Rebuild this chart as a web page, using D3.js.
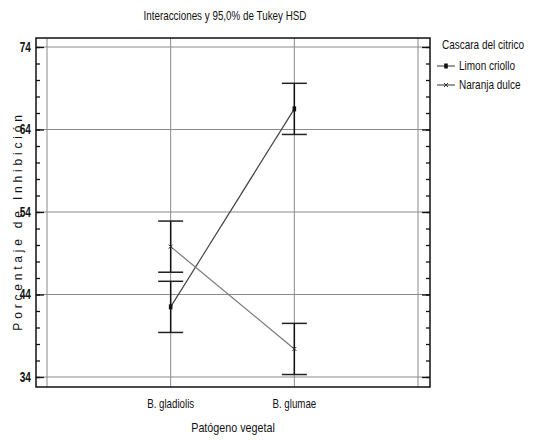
<!DOCTYPE html>
<html><head><meta charset="utf-8">
<script src="https://cdn.jsdelivr.net/npm/d3@7"></script>
<style>
body{margin:0;background:#fff;}
text{font-family:"Liberation Sans",Arial,sans-serif;fill:#111;}
</style></head>
<body><svg id="c" width="533" height="440"></svg>
<script>
const categories = ["B. gladiolis","B. glumae"];
const seriesNames = ["Limon criollo","Naranja dulce"];
const limonMeans = [42.5, 66.5];
const naranjaMeans = [49.8, 37.4];
const halfWidth = [3.1, 3.1];
const yTicks = [34,44,54,64,74];
const minorTicks = d3.range(34,75,2);

const svg = d3.select("#c");
const F = {l:36, r:430, t:38, b:387};
const x = d3.scaleLinear().domain([0,3]).range([47,418]);
const y = d3.scaleLinear().domain([34,74]).range([377,47]);

function ntext(sel, tx, ty, str, opts){
  opts = opts||{};
  return sel.append("text")
    .attr("transform",`translate(${tx},${ty}) scale(${opts.sx||0.8},1)`)
    .attr("text-anchor",opts.anchor||"start")
    .attr("font-size",opts.size||12)
    .attr("font-weight",opts.weight||"normal")
    .text(str);
}

// gridlines
const g = svg.append("g");
g.selectAll(".hg").data(yTicks).join("line")
  .attr("x1",F.l).attr("x2",F.r).attr("y1",d=>y(d)).attr("y2",d=>y(d))
  .attr("stroke","#8a8a8a").attr("stroke-width",1);
g.selectAll(".vg").data([0,1,2,3]).join("line")
  .attr("x1",d=>x(d)).attr("x2",d=>x(d)).attr("y1",F.t).attr("y2",F.b)
  .attr("stroke","#8a8a8a").attr("stroke-width",1);

// frame
svg.append("rect").attr("x",F.l).attr("y",F.t).attr("width",F.r-F.l).attr("height",F.b-F.t)
  .attr("fill","none").attr("stroke","#111").attr("stroke-width",1.5);

// axes
const axL = svg.append("g").attr("transform",`translate(${F.l},0)`)
  .call(d3.axisLeft(y).tickValues(yTicks).tickSizeInner(-8).tickSizeOuter(0).tickPadding(7));
const axLm = svg.append("g").attr("transform",`translate(${F.l},0)`)
  .call(d3.axisLeft(y).tickValues(minorTicks).tickSizeInner(-4).tickSizeOuter(0).tickFormat(""));
const axR = svg.append("g").attr("transform",`translate(${F.r},0)`)
  .call(d3.axisRight(y).tickValues(yTicks).tickSizeInner(-8).tickSizeOuter(0).tickFormat(""));
const axRm = svg.append("g").attr("transform",`translate(${F.r},0)`)
  .call(d3.axisRight(y).tickValues(minorTicks).tickSizeInner(-4).tickSizeOuter(0).tickFormat(""));
[axL,axLm,axR,axRm].forEach(a=>{a.select(".domain").remove();a.selectAll("line").attr("stroke","#111").attr("stroke-width",1.3);});
axL.selectAll("text").attr("font-size",14).attr("font-weight","bold").attr("fill","#111")
  .attr("transform","scale(0.72,1)").style("font-family","'Liberation Sans',sans-serif");

// lines between means
const series = [
  {name:seriesNames[0], vals:limonMeans, color:"#444"},
  {name:seriesNames[1], vals:naranjaMeans, color:"#777"}
];
const line = d3.line().x((d,i)=>x(i+1)).y(d=>y(d));
series.forEach(s=>{
  svg.append("path").attr("d",line(s.vals)).attr("fill","none").attr("stroke",s.color).attr("stroke-width",1.2);
});

// error bars
series.forEach(s=>{
  s.vals.forEach((v,i)=>{
    const cx=x(i+1), lo=y(v-halfWidth[i]), hi=y(v+halfWidth[i]);
    svg.append("line").attr("x1",cx).attr("x2",cx).attr("y1",lo).attr("y2",hi).attr("stroke","#111").attr("stroke-width",1.5);
    [lo,hi].forEach(yy=>svg.append("line").attr("x1",cx-12.5).attr("x2",cx+12.5).attr("y1",yy).attr("y2",yy).attr("stroke","#222").attr("stroke-width",1.5));
  });
});
// markers
function marker(sel,type,cx,cy){
  if(type===0){sel.append("rect").attr("x",cx-1.8).attr("y",cy-2.5).attr("width",3.6).attr("height",5).attr("fill","#111");}
  else{sel.append("path").attr("d",`M${cx-2},${cy-2}L${cx+2},${cy+2}M${cx-2},${cy+2}L${cx+2},${cy-2}`).attr("stroke","#333").attr("stroke-width",1);}
}
series.forEach((s,k)=>s.vals.forEach((v,i)=>marker(svg,k,x(i+1),y(v))));

// title
ntext(svg,225,20,"Interacciones y 95,0% de Tukey HSD",{anchor:"middle",size:12,sx:0.82});
// x category labels
categories.forEach((c,i)=>ntext(svg,x(i+1),408,c,{anchor:"middle",size:12.5,sx:0.78}));
ntext(svg,233,432,"Patógeno vegetal",{anchor:"middle",size:12.5,sx:0.86});
// y label
svg.append("text").attr("transform","translate(22,221) rotate(-90)").attr("text-anchor","middle")
  .attr("font-size",12).attr("letter-spacing","3.8px").text("Porcentaje de Inhibición");

// legend
const lg = svg.append("g");
ntext(lg,442,49,"Cascara del citrico",{size:12.5,sx:0.8});
series.forEach((s,k)=>{
  const yy = 66 + k*19;
  lg.append("line").attr("x1",437).attr("x2",455).attr("y1",yy).attr("y2",yy).attr("stroke","#333").attr("stroke-width",1);
  marker(lg,k,446,yy);
  ntext(lg,459,yy+4,s.name,{size:12.5,sx:0.8});
});
</script></body></html>
